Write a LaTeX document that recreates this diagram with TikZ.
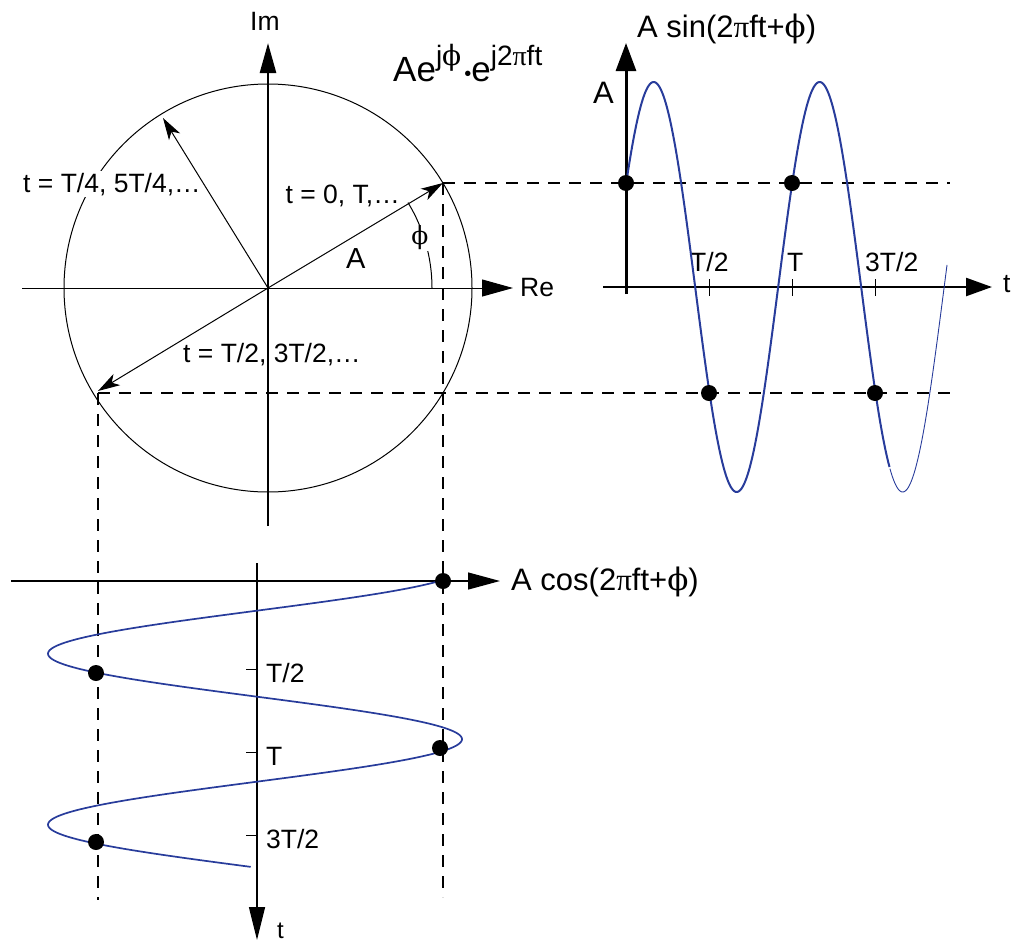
\documentclass[tikz,border=0pt]{standalone}
\usepackage{fontspec}
\setmainfont{Liberation Sans}
\newfontfamily\grk{DejaVu Serif}
\newfontfamily\grp{Liberation Serif}
\usetikzlibrary{arrows.meta}
\definecolor{wave}{RGB}{40,60,155}
\newcommand{\phs}{{\grk ϕ}}
\newcommand{\ppi}{{\grp π}}
\begin{document}
\begin{tikzpicture}[x=1pt,y=-1pt,
  lbl/.style={font=\fontsize{26.5}{30}\selectfont, inner sep=0pt, anchor=base west},
  big/.style={font=\fontsize{31}{35}\selectfont, inner sep=0pt, anchor=base west},
  dsh/.style={line width=1.3pt, dash pattern=on 12pt off 9pt},
  dot/.style={fill=black},
  vec/.style={line width=1pt, -{Stealth[length=22pt,width=13pt,inset=6pt]}},
  wavethick/.style={wave, line width=2pt, line join=round},
  wavethin/.style={wave, line width=0.9pt, line join=round}]
\useasboundingbox (0,0) rectangle (1011,945);

% ---------- phasor circle ----------
\coordinate (O) at (268,288);
\coordinate (P0) at (443,183);
\coordinate (P1) at (163,118);
\coordinate (P2) at (98,391);
\draw[line width=1pt] (O) circle[radius=204];
\node[lbl, fill=white, inner sep=2pt, anchor=base west] (l4) at (21,192) {t = T/4, 5T/4,…};
% phi arc
\draw[line width=1pt] (O) ++(-31.4:164) arc[start angle=-31.4, end angle=0, radius=164];
\node[font=\fontsize{25}{28}\grk, fill=white, inner sep=1pt] (phl) at (420,238) {ϕ};
% axes
\coordinate (ReS) at (22,288);
\coordinate (ReE) at (513,288);
\coordinate (ImS) at (268,526);
\coordinate (ImE) at (268,43);
\draw[line width=1pt, -{Triangle[length=31pt,width=17pt]}] (ReS) -- (ReE);
\draw[line width=2.6pt, -{Triangle[length=30pt,width=16pt]}] (ImS) -- (ImE);
% vectors
\draw[vec] (O) -- (P0);
\draw[vec] (O) -- (P1);
\draw[vec] (O) -- (P2);
% labels
\node[lbl] (im) at (250,30) {Im};
\node[lbl] (re) at (520,296) {Re};
\node[lbl, anchor=base east] (l0) at (400,203) {t = 0, T,…};
\node[lbl] (l2) at (183,362) {t = T/2, 3T/2,…};
\node[font=\fontsize{29}{32}\selectfont, inner sep=0pt, anchor=base west] (la) at (346,268) {A};
\node[anchor=base west, inner sep=0pt, font=\fontsize{35}{38}\selectfont] (eq) at (393,81)
  {Ae\raisebox{16pt}{\fontsize{28}{30}\selectfont j\phs}\hspace{3pt}\raisebox{1pt}{\fontsize{20}{20}\selectfont •}e\raisebox{16pt}{\fontsize{28}{30}\selectfont j2\ppi ft}};

% ---------- dashed projections ----------
\coordinate (D0r) at (950,183);
\coordinate (D0b) at (443,897);
\coordinate (D2) at (98,393);
\coordinate (D2r) at (950,393);
\coordinate (D2b) at (98,900);
\draw[dsh] (P0) -- (D0r);
\draw[dsh] (P0) -- (D0b);
\draw[dsh] (D2) -- (D2r);
\draw[dsh] (D2) -- (D2b);

% ---------- sine graph ----------
\coordinate (SxS) at (603,287);
\coordinate (SxE) at (992,287);
\coordinate (SyS) at (626,294);
\coordinate (SyE) at (626,43);
\draw[line width=2.4pt, -{Triangle[length=26pt,width=18pt]}] (SxS) -- (SxE);
\draw[line width=3pt, -{Triangle[length=28pt,width=20pt]}] (SyS) -- (SyE);
\foreach \x in {709,792,875} \draw[line width=1pt] (\x,279) -- (\x,296);
\node[lbl] (st1) at (690,271) {T/2};
\node[lbl] (st2) at (787,271) {T};
\node[lbl] (st3) at (865,271) {3T/2};
\node[lbl] (st) at (1003,292) {t};
\node[big] (sa) at (593,103) {A};
\node[big] (stitle) at (637,37) {A sin(2\ppi ft+\phs)};
\draw[wavethick] plot[domain=0:1.59, samples=220, variable=\t] ({626+166*\t},{287-205*sin(360*\t+30)});
\draw[wavethin] plot[domain=1.59:1.934, samples=60, variable=\t] ({626+166*\t},{287-205*sin(360*\t+30)});
\foreach \p in {(626,183),(792,183),(709,393),(875,393)}
  \fill[dot] \p circle[radius=8];

% ---------- cosine graph ----------
\coordinate (CxS) at (11,581);
\coordinate (CxE) at (500,581);
\coordinate (CyS) at (257,563);
\coordinate (CyE) at (257,940);
\draw[line width=1.3pt, -{Triangle[length=32pt,width=17pt]}] (CxS) -- (CxE);
\draw[line width=1.3pt, -{Triangle[length=33pt,width=16pt]}] (CyS) -- (CyE);
\foreach \y in {669,752,835} \draw[line width=1pt] (246,\y) -- (257,\y);
\node[lbl] (ct1) at (266,682) {T/2};
\node[lbl] (ct2) at (266,765) {T};
\node[lbl] (ct3) at (266,848) {3T/2};
\node[font=\fontsize{24}{26}\selectfont, inner sep=0pt, anchor=base west] (ct) at (277,938) {t};
\node[big] (ctitle) at (511,590) {A cos(2\ppi ft+\phs)};
\draw[wave, line width=1.7pt, line join=round] plot[domain=0:1.6725, samples=260, variable=\t] ({255+207*cos(360*\t+27)},{581+171*\t});
\foreach \p in {(443,581),(96,673),(440,748),(96,842)}
  \fill[dot] \p circle[radius=8];
\end{tikzpicture}
\end{document}
